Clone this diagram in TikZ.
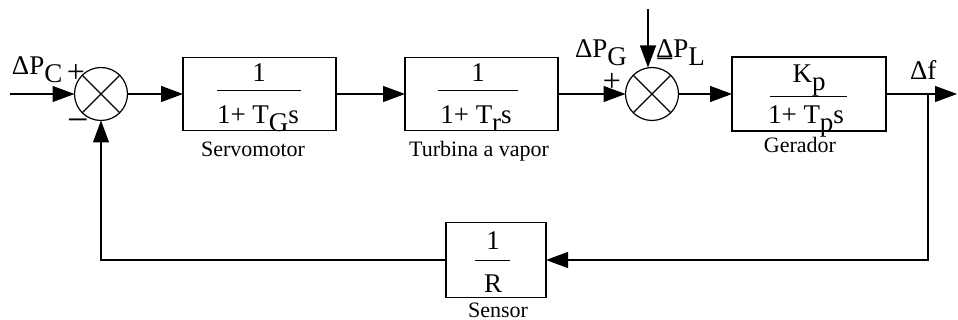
\documentclass[tikz,border=0pt]{standalone}
\usepackage{fontspec}
\setmainfont{Liberation Serif}
\usetikzlibrary{arrows.meta}
\newcommand{\lowsub}[1]{\raisebox{-8pt}{#1}}
\begin{document}
\begin{tikzpicture}[x=1pt,y=-1pt,
  every node/.style={inner sep=0pt, outer sep=0pt},
  txt/.style={font=\fontsize{27}{31}\selectfont},
  sgn/.style={font=\fontsize{32}{34}\selectfont},
  msgn/.style={font=\fontsize{38}{40}\selectfont},
  lab/.style={font=\fontsize{22}{26}\selectfont},
  blk/.style={draw, line width=1.3pt, minimum width=153pt, minimum height=73pt},
  sumj/.style={draw, circle, line width=1.2pt, minimum size=53pt},
  sig/.style={line width=1.2pt, -{Triangle[length=22pt,width=16pt]}},
  wire/.style={line width=1.2pt},
  fracrule/.style={line width=1pt}]
\useasboundingbox (0,0) rectangle (958,320);
% blocks and junctions
\coordinate (in) at (10,94);
\node[sumj] (s1) at (101,94) {};
\node[blk] (sg) at (259.5,94) {};
\node[blk] (st) at (481.5,94) {};
\node[sumj] (s2) at (652,94) {};
\node[blk, line width=2.2pt, minimum width=154pt, minimum height=74pt] (gp) at (809,94) {};
\coordinate (out) at (957,94);
\coordinate (br) at (928,94);
\node[blk, line width=1.8pt, minimum width=100pt, minimum height=75pt] (sr) at (496,260) {};
\coordinate (pl) at (648,9);
% summing junction crosses
\draw[wire] (s1.north west) -- (s1.south east) (s1.north east) -- (s1.south west);
\draw[wire] (s2.north west) -- (s2.south east) (s2.north east) -- (s2.south west);
% connectors
\draw[sig] (in) -- (s1);
\draw[sig] (s1) -- (sg);
\draw[sig] (sg) -- (st);
\draw[sig] (st) -- (s2);
\draw[sig] (pl) -- (pl |- s2.north);
\draw[sig] (s2) -- (gp);
\draw[sig] (gp) -- (out);
\draw[sig] (br) -- (br |- sr) -- (sr);
\draw[sig] (sr) -- (s1 |- sr) -- (s1);
% servomotor transfer function
\node[txt, anchor=base] (sgn) at (259,82) {1};
\draw[fracrule] (217,91) -- (301,91);
\node[txt, anchor=base] (sgd) at (258,124) {1+ T\lowsub{G}s};
% turbine transfer function
\node[txt, anchor=base] (stn) at (478,82) {1};
\draw[fracrule] (438,91) -- (518,91);
\node[txt, anchor=base] (std) at (476,124) {1+ T\lowsub{r}s};
% generator transfer function
\node[txt, anchor=base] (gpn) at (809,83) {K\lowsub{p}};
\draw[fracrule] (770,97) -- (847,97);
\node[txt, anchor=base] (gpd) at (806,124) {1+ T\lowsub{p}s};
% sensor transfer function
\node[txt, anchor=base] (srn) at (493,250) {1};
\draw[fracrule] (475,261) -- (510,261);
\node[txt, anchor=base] (srd) at (493,292) {R};
% block labels
\node[lab, anchor=base] (lsg) at (253,157) {Servomotor};
\node[lab, anchor=base] (lst) at (479,157) {Turbina a vapor};
\node[lab, anchor=base] (lgp) at (800,153) {Gerador};
\node[lab, anchor=base] (lsr) at (498,317) {Sensor};
% signal labels and signs
\node[txt, anchor=base west] (lpc) at (12,75) {ΔP\lowsub{C}};
\node[sgn] (p1) at (76,73) {+};
\node[msgn] (m1) at (78,126) {−};
\node[txt, anchor=base west] (lpg) at (575,58) {ΔP\lowsub{G}};
\node[sgn] (p2) at (612,82) {+};
\node[txt, anchor=base west] (lpl) at (656,58) {ΔP\lowsub{L}};
\node[sgn] (m2) at (665,64) {−};
\node[txt, anchor=base west] (ldf) at (910,80) {Δf};
\end{tikzpicture}
\end{document}
